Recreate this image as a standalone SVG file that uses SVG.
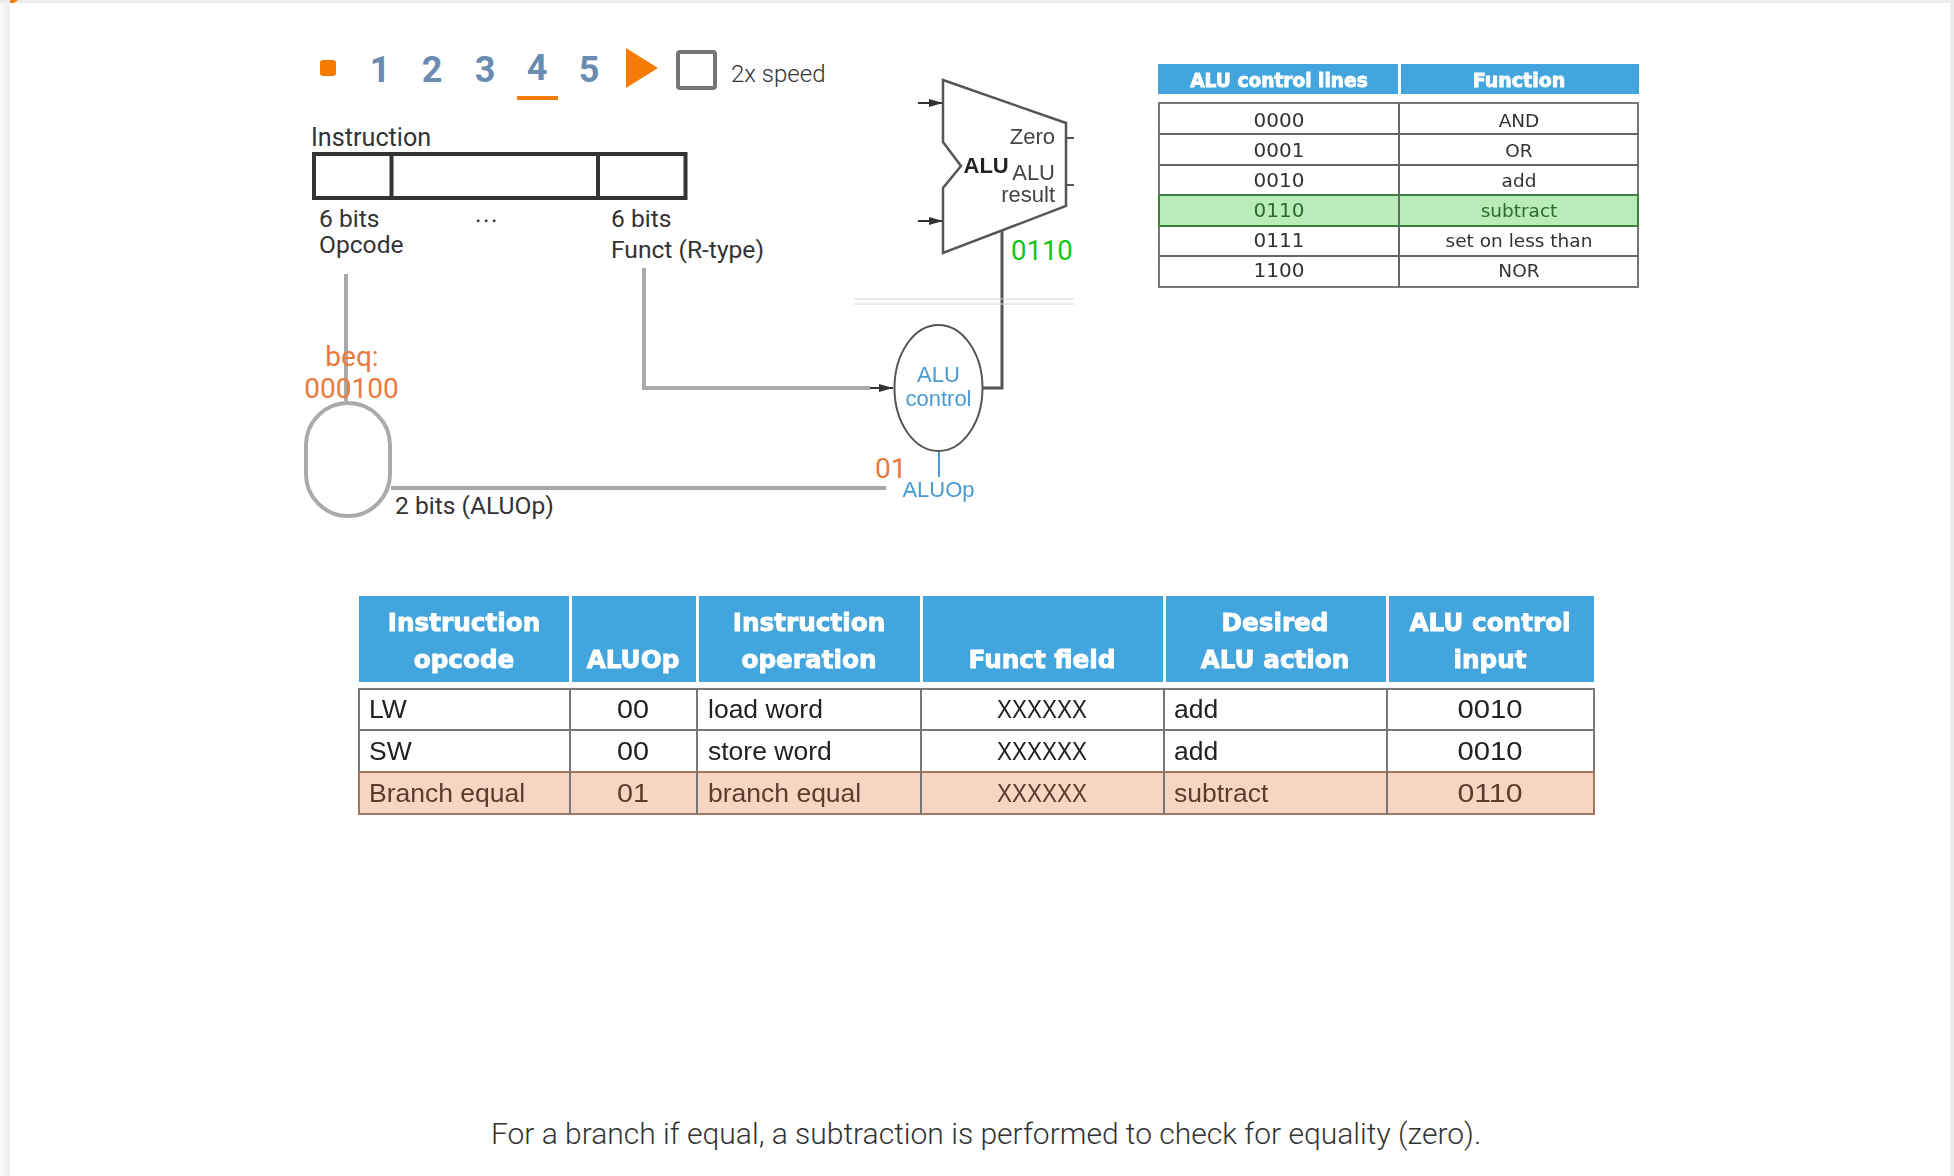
<svg xmlns="http://www.w3.org/2000/svg" width="1954" height="1176" viewBox="0 0 1954 1176">
<defs>
<filter id="soft" x="-5%" y="-5%" width="110%" height="110%"><feGaussianBlur stdDeviation="0.7"/></filter>
<linearGradient id="side" x1="0" x2="1" y1="0" y2="0"><stop offset="0" stop-color="#fafafa"/><stop offset="1" stop-color="#ececec"/></linearGradient>
<marker id="arr" markerWidth="14" markerHeight="8" refX="14" refY="4" orient="auto" markerUnits="userSpaceOnUse"><path d="M0 0L14 4L0 8Z" fill="#333"/></marker>
</defs>
<style>
text{font-family:"Liberation Sans",Arial,sans-serif;fill:#333}
.rb{font-family:Roboto,"Liberation Sans",sans-serif}
.step{font-family:Roboto,sans-serif;font-weight:700;font-size:36px;fill:#6a8cb0;text-anchor:middle}
.lab{font-family:Roboto,sans-serif;font-size:24.600px;fill:#333}
.or{font-family:Roboto,sans-serif;font-size:28px;fill:#e97a3c}
.wire{fill:none;stroke:#aaa;stroke-width:4}
.dk{fill:none;stroke:#555;stroke-width:3}
.alu{font-size:22px;fill:#444;text-anchor:end}
.blue{font-size:22px;fill:#4a9bd4;text-anchor:middle}
.hd{fill:#42a5dd}
.ht{font-family:"DejaVu Sans",sans-serif;font-weight:700;fill:#fff;stroke:#fff;stroke-width:.9;text-anchor:middle}
.t1{font-family:"DejaVu Sans",sans-serif;font-size:18.500px;fill:#333;text-anchor:middle}
.t1n{font-size:20px}
.cell{font-size:26.500px;fill:#222}
.c{text-anchor:middle}
.grid{fill:#fff;stroke:#777;stroke-width:2}
.br{fill:#5a3c2c}
</style>
<rect width="1954" height="1176" fill="#fff"/>
<g id="chrome">
<rect x="0" y="0" width="10" height="1176" fill="url(#side)"/>
<rect x="1950" y="0" width="4" height="1176" fill="#ececec"/>
<rect x="0" y="0" width="1954" height="3" fill="#ececec"/>
<path d="M10 0H18L14 3H10Z" fill="#f57c00"/>
</g>
<g id="player">
<rect x="320" y="60" width="16" height="16" rx="3" fill="#f57c00"/>
<text class="step" x="380" y="82">1</text>
<text class="step" x="432" y="82">2</text>
<text class="step" x="485" y="82">3</text>
<text class="step" x="537" y="80">4</text>
<text class="step" x="589" y="82">5</text>
<rect x="517" y="96" width="41" height="4" fill="#f57c00"/>
<path d="M626 48L658 68L626 88Z" fill="#f57c00"/>
<rect x="678" y="52" width="37" height="36" rx="2" fill="#fff" stroke="#767676" stroke-width="4"/>
<text class="rb" x="731" y="82" font-size="24" font-weight="300" style="fill:#333">2x speed</text>
</g>
<g id="connectors">
<path class="wire" d="M346 274V401"/>
<path class="wire" d="M644 268V388H870"/>
<path class="wire" d="M391 488H886"/>
<path d="M870 388H893" stroke="#333" stroke-width="2" fill="none" marker-end="url(#arr)"/>
<path class="dk" d="M982 388H1002V230"/>
<path d="M854 299H1074M854 304H1074" stroke="#d4d4d4" stroke-width="1" fill="none"/>
<g filter="url(#soft)">
<path d="M918 103H943" stroke="#333" stroke-width="2" fill="none" marker-end="url(#arr)"/>
<path d="M918 221H943" stroke="#333" stroke-width="2" fill="none" marker-end="url(#arr)"/>
<path d="M1066 138H1074M1066 185H1074" stroke="#555" stroke-width="2" fill="none"/>
<path d="M939 451V477" stroke="#4a9bd4" stroke-width="2" fill="none"/>
</g>
</g>
<g id="instruction">
<text class="lab" x="311" y="146" style="font-size:25.200px">Instruction</text>
<rect x="314" y="154" width="371.500" height="44" fill="#fff" stroke="#333" stroke-width="4"/>
<path d="M391.500 154V198M598 154V198" stroke="#333" stroke-width="4" fill="none"/>
<text class="lab" x="319" y="227">6 bits</text>
<text class="lab" x="319" y="253">Opcode</text>
<text class="lab" x="475" y="222" letter-spacing="1.500">...</text>
<text class="lab" x="611" y="227">6 bits</text>
<text class="lab" x="611" y="258">Funct (R-type)</text>
</g>
<g id="opcode-decoder">
<rect x="306" y="403" width="84" height="113" rx="42" fill="#fff" stroke="#aaa" stroke-width="4"/>
<text class="or" x="352" y="366" text-anchor="middle">beq:</text>
<text class="or" x="351.500" y="398" text-anchor="middle">000100</text>
<text class="lab" x="395" y="514">2 bits (ALUOp)</text>
</g>
<g id="alu">
<path d="M943 80L1066 123V206L943 253V188L961 166L943 142Z" fill="#fff" stroke="#555" stroke-width="2.500" filter="url(#soft)"/>
<g filter="url(#soft)">
<text class="alu" x="1055" y="144">Zero</text>
<text x="963.500" y="173" font-size="22" font-weight="700" style="fill:#222">ALU</text>
<text class="alu" x="1055" y="180">ALU</text>
<text class="alu" x="1055" y="202">result</text>
</g>
<text x="1011" y="260" style="font-family:Roboto,sans-serif;font-size:27.500px;fill:#11c711">0110</text>
</g>
<g id="alu-control">
<ellipse cx="938.500" cy="388" rx="44" ry="63" fill="#fff" stroke="#555" stroke-width="2" filter="url(#soft)"/>
<g filter="url(#soft)">
<text class="blue" x="938.500" y="382">ALU</text>
<text class="blue" x="938.500" y="406">control</text>
<text class="blue" x="938.500" y="497">ALUOp</text>
</g>
<text class="or" x="875" y="478">01</text>
</g>
<g id="function-table" filter="url(#soft)">
<rect class="hd" x="1158" y="64" width="481" height="30"/>
<rect x="1398" y="64" width="3" height="30" fill="#fff"/>
<text class="ht" x="1279" y="87" font-size="18.600">ALU control lines</text>
<text class="ht" x="1519" y="87" font-size="19">Function</text>
<rect class="grid" x="1159" y="103" width="479" height="184"/>
<rect x="1159" y="195" width="479" height="31" fill="#b8ecb8" stroke="#3f7f3f" stroke-width="2"/>
<path d="M1159 134H1638M1159 165H1638M1159 256H1638M1399 103V287" stroke="#666" stroke-width="2" fill="none"/>
<text class="t1 t1n" x="1279" y="127">0000</text><text class="t1" x="1519" y="127">AND</text>
<text class="t1 t1n" x="1279" y="157">0001</text><text class="t1" x="1519" y="157">OR</text>
<text class="t1 t1n" x="1279" y="187">0010</text><text class="t1" x="1519" y="187">add</text>
<text class="t1 t1n" x="1279" y="217" style="fill:#2f6b2f">0110</text><text class="t1" x="1519" y="217" style="fill:#2f6b2f">subtract</text>
<text class="t1 t1n" x="1279" y="247">0111</text><text class="t1" x="1519" y="247">set on less than</text>
<text class="t1 t1n" x="1279" y="277">1100</text><text class="t1" x="1519" y="277">NOR</text>
</g>
<g id="control-table" filter="url(#soft)">
<rect class="hd" x="359" y="596" width="210" height="86"/>
<rect class="hd" x="572" y="596" width="124" height="86"/>
<rect class="hd" x="699" y="596" width="221" height="86"/>
<rect class="hd" x="923" y="596" width="240" height="86"/>
<rect class="hd" x="1166" y="596" width="220" height="86"/>
<rect class="hd" x="1389" y="596" width="205" height="86"/>
<g font-size="24.700">
<text class="ht" x="464" y="631">Instruction</text><text class="ht" x="464" y="668">opcode</text>
<text class="ht" x="633" y="668">ALUOp</text>
<text class="ht" x="809" y="631">Instruction</text><text class="ht" x="809" y="668">operation</text>
<text class="ht" x="1042" y="668">Funct field</text>
<text class="ht" x="1275" y="631">Desired</text><text class="ht" x="1275" y="668">ALU action</text>
<text class="ht" x="1490" y="631">ALU control</text><text class="ht" x="1490" y="668">input</text>
</g>
<rect class="grid" x="359" y="689" width="1235" height="83"/>
<rect x="359" y="772" width="1235" height="42" fill="#f6d5c3" stroke="#a07860" stroke-width="2"/>
<path d="M359 730H1594M570 689V814M697 689V814M921 689V814M1164 689V814M1387 689V814" stroke="#777" stroke-width="2" fill="none"/>
<text class="cell" x="369" y="718">LW</text><text class="cell c" x="633" y="718" textLength="32" lengthAdjust="spacingAndGlyphs">00</text><text class="cell" x="708" y="718">load word</text><text class="cell c" x="1042" y="718" textLength="90" lengthAdjust="spacingAndGlyphs">XXXXXX</text><text class="cell" x="1174" y="718">add</text><text class="cell c" x="1490" y="718" textLength="65" lengthAdjust="spacingAndGlyphs">0010</text>
<text class="cell" x="369" y="760">SW</text><text class="cell c" x="633" y="760" textLength="32" lengthAdjust="spacingAndGlyphs">00</text><text class="cell" x="708" y="760">store word</text><text class="cell c" x="1042" y="760" textLength="90" lengthAdjust="spacingAndGlyphs">XXXXXX</text><text class="cell" x="1174" y="760">add</text><text class="cell c" x="1490" y="760" textLength="65" lengthAdjust="spacingAndGlyphs">0010</text>
<text class="cell br" x="369" y="802" style="fill:#5a3c2c">Branch equal</text><text class="cell c br" x="633" y="802" textLength="32" lengthAdjust="spacingAndGlyphs" style="fill:#5a3c2c">01</text><text class="cell br" x="708" y="802" style="fill:#5a3c2c">branch equal</text><text class="cell c br" x="1042" y="802" textLength="90" lengthAdjust="spacingAndGlyphs" style="fill:#5a3c2c">XXXXXX</text><text class="cell br" x="1174" y="802" style="fill:#5a3c2c">subtract</text><text class="cell c br" x="1490" y="802" textLength="65" lengthAdjust="spacingAndGlyphs" style="fill:#5a3c2c">0110</text>
</g>
<g id="caption">
<text class="rb" x="986" y="1144" text-anchor="middle" font-size="30" font-weight="300" style="fill:#333">For a branch if equal, a subtraction is performed to check for equality (zero).</text>
</g>
</svg>
